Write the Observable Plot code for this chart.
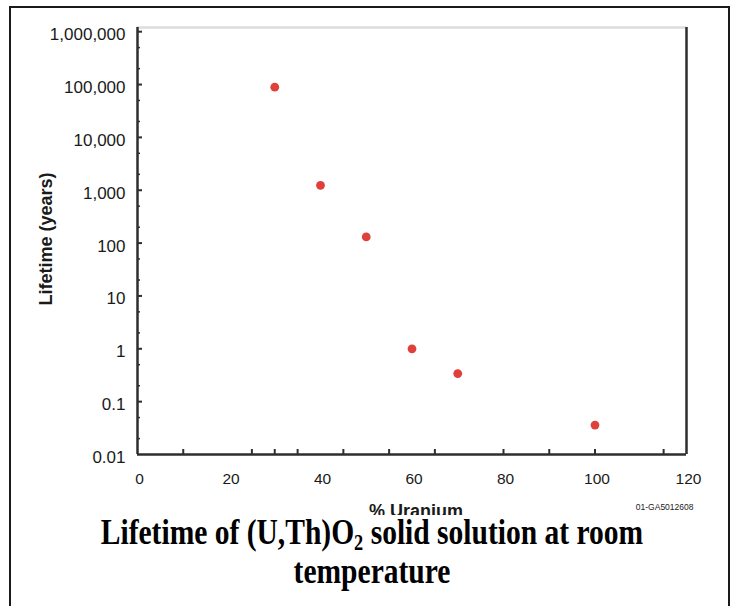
<!DOCTYPE html>
<html>
<head>
<meta charset="utf-8">
<script src="https://cdn.jsdelivr.net/npm/d3@7"></script>
<script src="https://cdn.jsdelivr.net/npm/@observablehq/plot@0.6"></script>
<style>
  html, body { margin: 0; padding: 0; background: #fff; overflow: hidden; }
  #wrap { position: relative; width: 731px; height: 606px; overflow: hidden; }
  #chart svg { display: block; overflow: hidden; }
  #title {
    font-family: "Liberation Serif", "Times New Roman", serif;
    font-weight: bold; font-size: 36px; line-height: 35px; color: #000;
    width: 731px; text-align: center; white-space: nowrap;
    transform: translateX(6.5px) scaleX(0.82); transform-origin: 365.5px 0;
  }
  #title .sub { font-size: 0.62em; position: relative; top: 0.25em; }
  #border {
    position: absolute; left: 9px; top: 6px; width: 717px; height: 700px;
    border: 2px solid #1a1a1a; pointer-events: none;
  }
</style>
</head>
<body>
<div id="wrap">
  <div id="chart"></div>
  <div id="title">Lifetime of (U,Th)O<span class="sub">2</span> solid solution at room<br>temperature</div>
  <div id="border"></div>
</div>
<script>
// ---- data ----
const uranium = [30, 40, 50, 60, 70, 100];           // % Uranium
const lifetime = [89000, 1240, 131, 1.0, 0.34, 0.036]; // years
const yTicks = [0.01, 0.1, 1, 10, 100, 1000, 10000, 100000, 1000000];
const yTickLabels = ["0.01", "0.1", "1", "10", "100", "1,000", "10,000", "100,000", "1,000,000"];
const yMinor = [2e-2, 5e-2, 2e-1, 5e-1, 2, 5, 20, 50, 200, 500, 2e3, 5e3, 2e4, 5e4, 2e5, 5e5];
const xLabelTicks = [0, 20, 40, 60, 80, 100, 120];
const xTicks = [10, 25, 30, 35, 45, 55, 65, 80, 90, 100, 115];
const xLabel = "% Uranium";
const yLabel = "Lifetime (years)";
const code = "01-GA5012608";

const points = uranium.map((u, i) => ({u, t: lifetime[i]}));

const W = 731, H = 515, mL = 137, mR = 45, mT = 27, mB = 61;
const innerW = W - mL - mR, innerH = H - mT - mB;
const yTop = 1.2e6;
const axisColor = "#2e2e2e";

const chart = Plot.plot({
  width: W, height: H,
  marginLeft: mL, marginRight: mR, marginTop: mT, marginBottom: mB,
  style: {fontFamily: "'Liberation Sans', Arial, sans-serif", fontSize: "16px", color: "#1a1a1a", background: "#fff"},
  x: {domain: [0, 120], axis: null},
  y: {type: "log", domain: [0.01, yTop], axis: null},
  marks: [
    Plot.ruleY([yTop], {stroke: "#dcdcdc", strokeWidth: 2.5}),
    Plot.ruleX([120], {stroke: axisColor, strokeWidth: 2.5}),
    Plot.ruleX([0], {stroke: axisColor, strokeWidth: 2.5}),
    Plot.ruleY([0.01], {stroke: axisColor, strokeWidth: 2.5}),
    Plot.tickX(xTicks, {x: d => d, insetTop: innerH - 5, stroke: axisColor, strokeWidth: 2}),
    Plot.tickY(yTicks.slice(1), {y: d => d, insetRight: innerW - 5, stroke: axisColor, strokeWidth: 2}),
    Plot.tickY(yMinor, {y: d => d, insetRight: innerW - 3, stroke: axisColor, strokeWidth: 1.5}),
    Plot.axisY(yTicks, {tickSize: 0, tickPadding: 12, dy: 3, fontSize: 17,
      tickFormat: d => yTickLabels[yTicks.indexOf(d)], label: null}),
    Plot.axisX(xLabelTicks, {tickSize: 0, tickPadding: 18, fontSize: 15.5, dx: 2, label: null}),
    Plot.dot(points, {x: "u", y: "t", r: 4.4, fill: "#e0403a", stroke: null}),
    Plot.text([yLabel], {frameAnchor: "left", textAnchor: "middle", rotate: -90, dx: -91, dy: -2, fontWeight: "bold", fontSize: 18}),
    Plot.text([xLabel], {frameAnchor: "bottom", lineAnchor: "bottom", dx: 4, dy: 62, fontWeight: "bold", fontSize: 18}),
    Plot.text([code], {frameAnchor: "bottom-right", textAnchor: "end", lineAnchor: "bottom", dx: 7, dy: 55, fontSize: 8.5})
  ]
});
document.getElementById("chart").appendChild(chart);
</script>
</body>
</html>
